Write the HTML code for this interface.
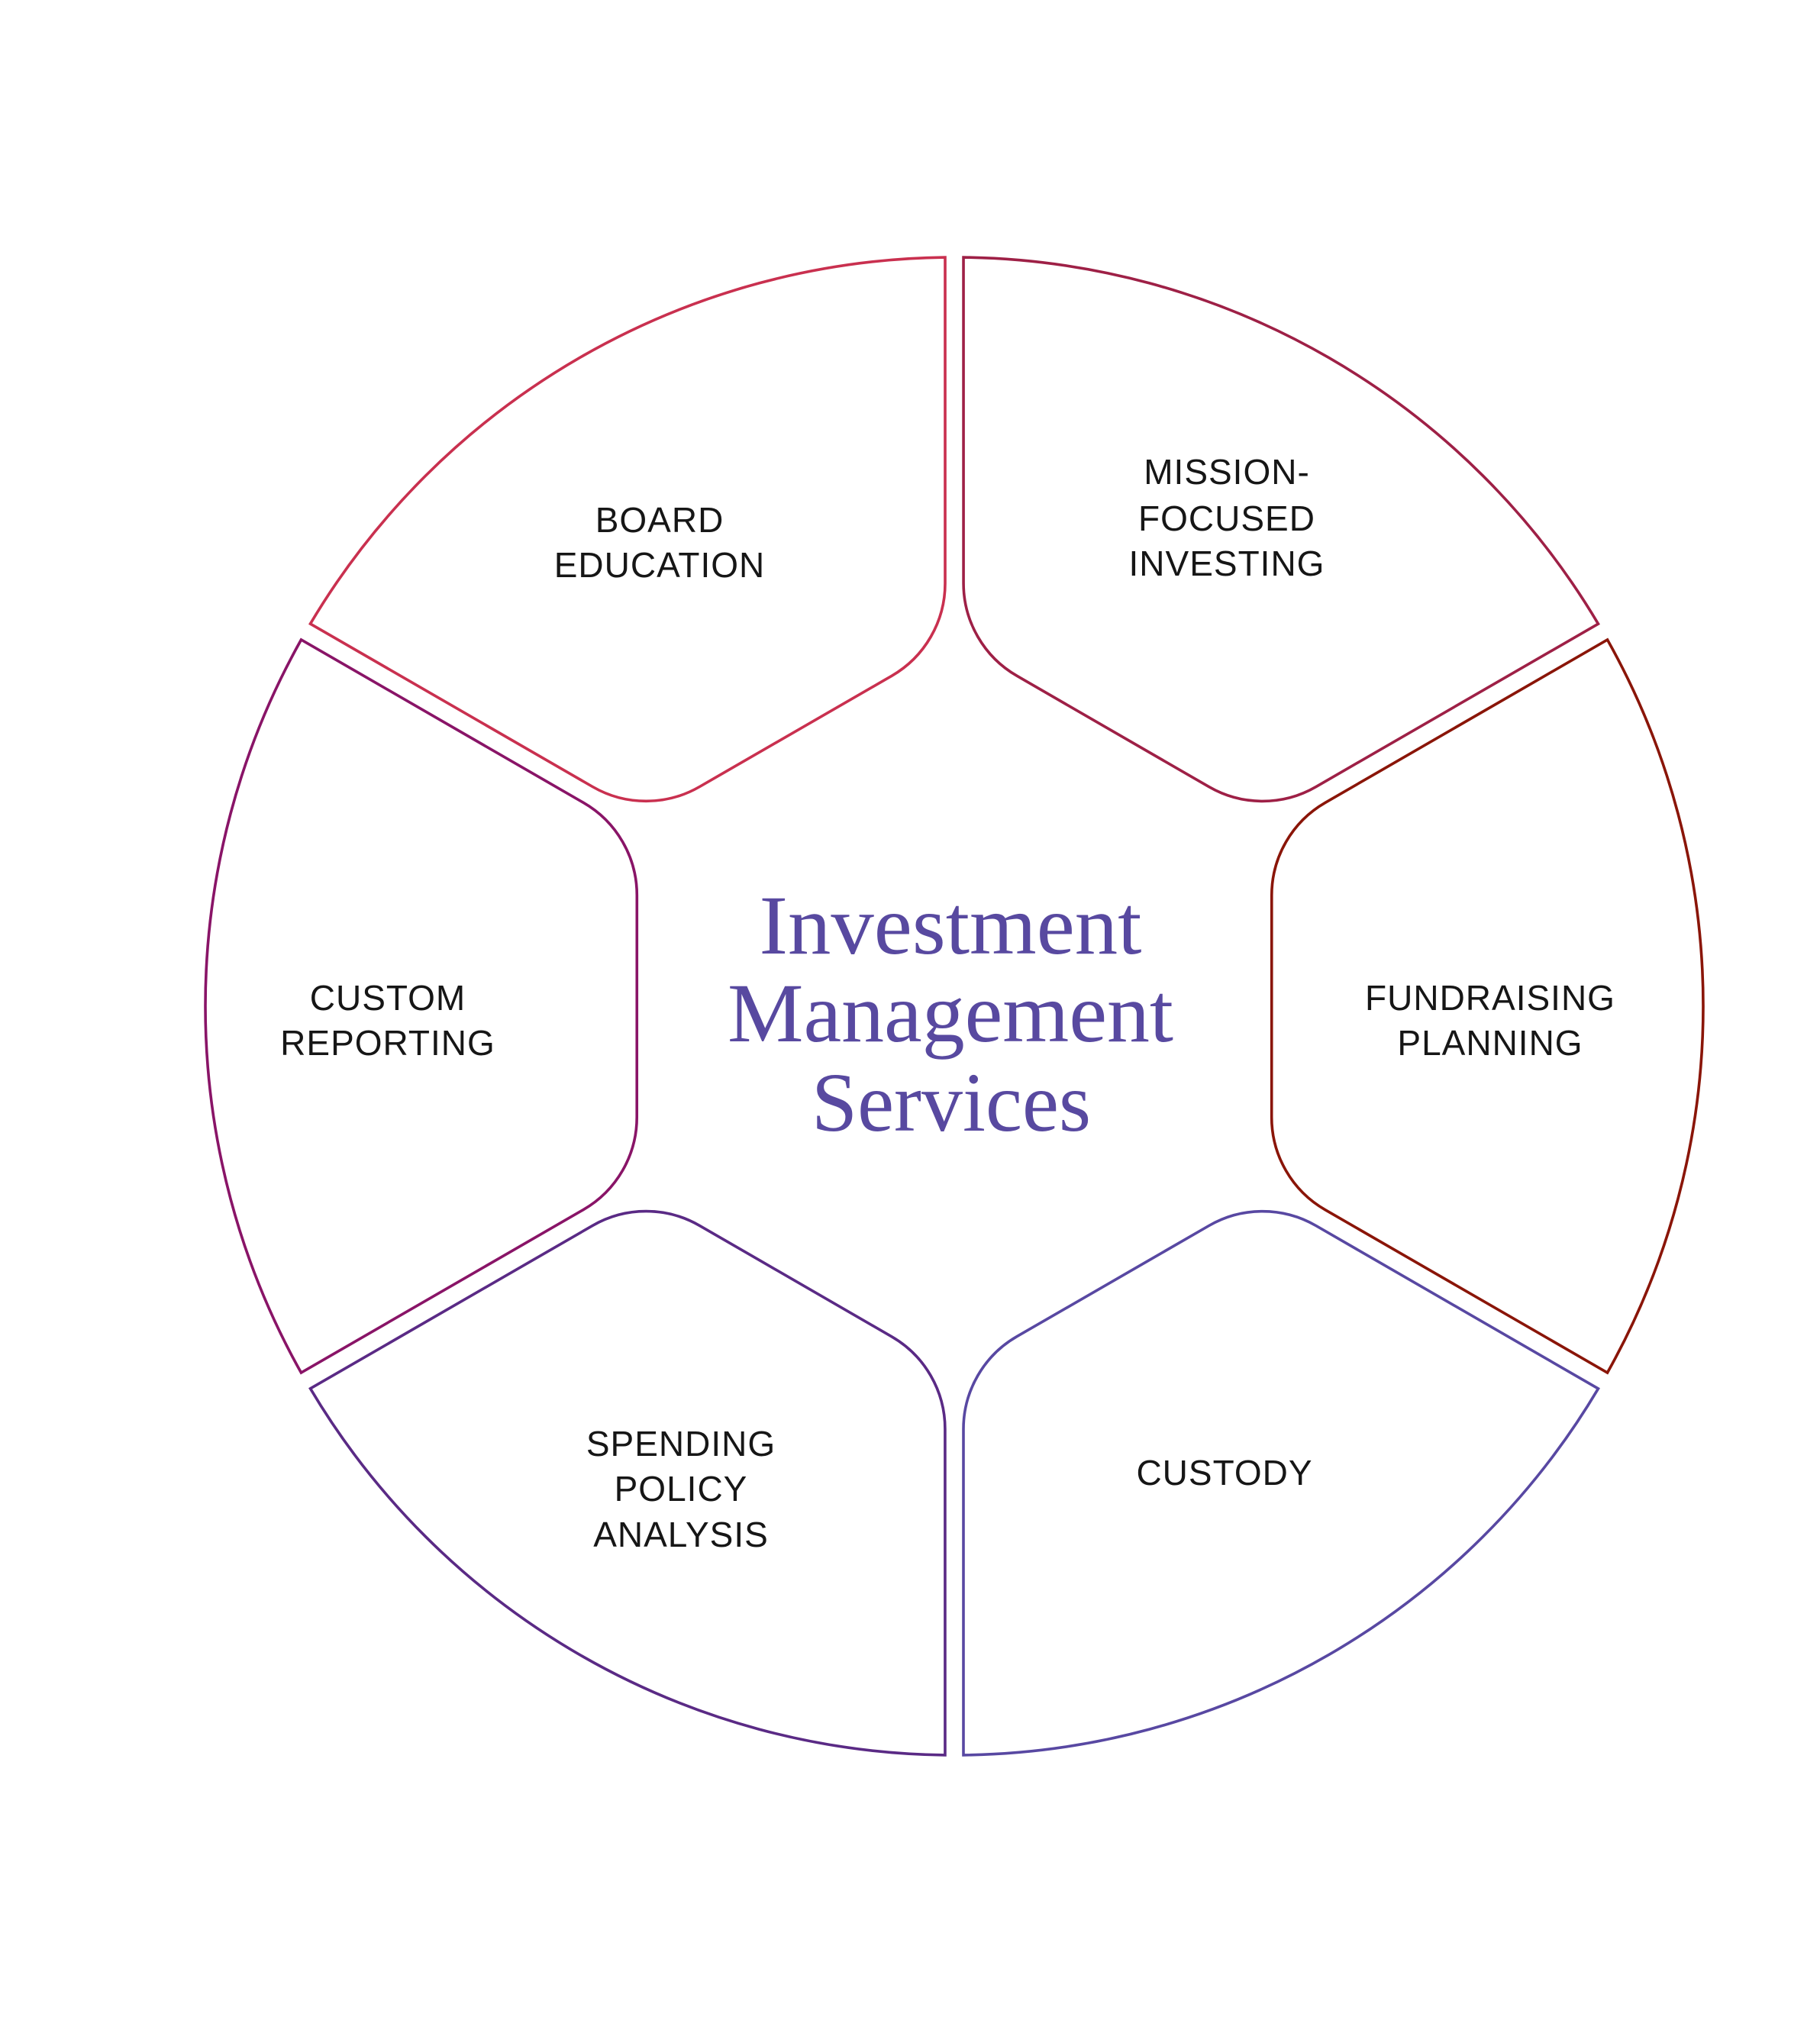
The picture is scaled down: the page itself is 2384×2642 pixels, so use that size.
<!DOCTYPE html>
<html>
<head>
<meta charset="utf-8">
<style>
html,body{margin:0;padding:0;background:#fff;}
svg{display:block;}
.lbl{font-family:"Liberation Sans",sans-serif;font-size:46px;fill:#161616;text-anchor:middle;letter-spacing:1px;}
.ttl{font-family:"Liberation Serif",serif;font-size:110px;fill:#5849a0;text-anchor:middle;}
</style>
</head>
<body>
<svg width="2384" height="2642" viewBox="0 0 2384 2642" xmlns="http://www.w3.org/2000/svg">
<defs>
<path id="w" d="M -12,-980.9 L -12,-554.1 A 140 140 0 0 1 -82.1,-432.6 L -333.6,-287.5 A 140 140 0 0 1 -473.8,-287.5 L -843.5,-500.9 A 981 981 0 0 1 -12,-980.9 Z" fill="none" stroke-width="3.6" stroke-linejoin="miter"/>
</defs>
<g transform="translate(1250,1318)">
<use href="#w" stroke="#c9304f"/>
<use href="#w" stroke="#9e2046" transform="rotate(60)"/>
<use href="#w" stroke="#8a1508" transform="rotate(120)"/>
<use href="#w" stroke="#5848a2" transform="rotate(180)"/>
<use href="#w" stroke="#5a2a85" transform="rotate(240)"/>
<use href="#w" stroke="#891467" transform="rotate(300)"/>
</g>

<text class="ttl" x="1245" y="1249" textLength="501" lengthAdjust="spacingAndGlyphs">Investment</text>
<text class="ttl" x="1245" y="1364" textLength="584" lengthAdjust="spacingAndGlyphs">Management</text>
<text class="ttl" x="1246" y="1481" textLength="366" lengthAdjust="spacingAndGlyphs">Services</text>

<text class="lbl" x="864" y="697">BOARD</text>
<text class="lbl" x="864" y="756">EDUCATION</text>

<text class="lbl" x="1607" y="634">MISSION-</text>
<text class="lbl" x="1607" y="695">FOCUSED</text>
<text class="lbl" x="1607" y="754">INVESTING</text>

<text class="lbl" x="508" y="1323">CUSTOM</text>
<text class="lbl" x="508" y="1382">REPORTING</text>

<text class="lbl" x="1952" y="1323">FUNDRAISING</text>
<text class="lbl" x="1952" y="1382">PLANNING</text>

<text class="lbl" x="892" y="1907">SPENDING</text>
<text class="lbl" x="892" y="1966">POLICY</text>
<text class="lbl" x="892" y="2026">ANALYSIS</text>

<text class="lbl" x="1604" y="1945">CUSTODY</text>
</svg>
</body>
</html>
